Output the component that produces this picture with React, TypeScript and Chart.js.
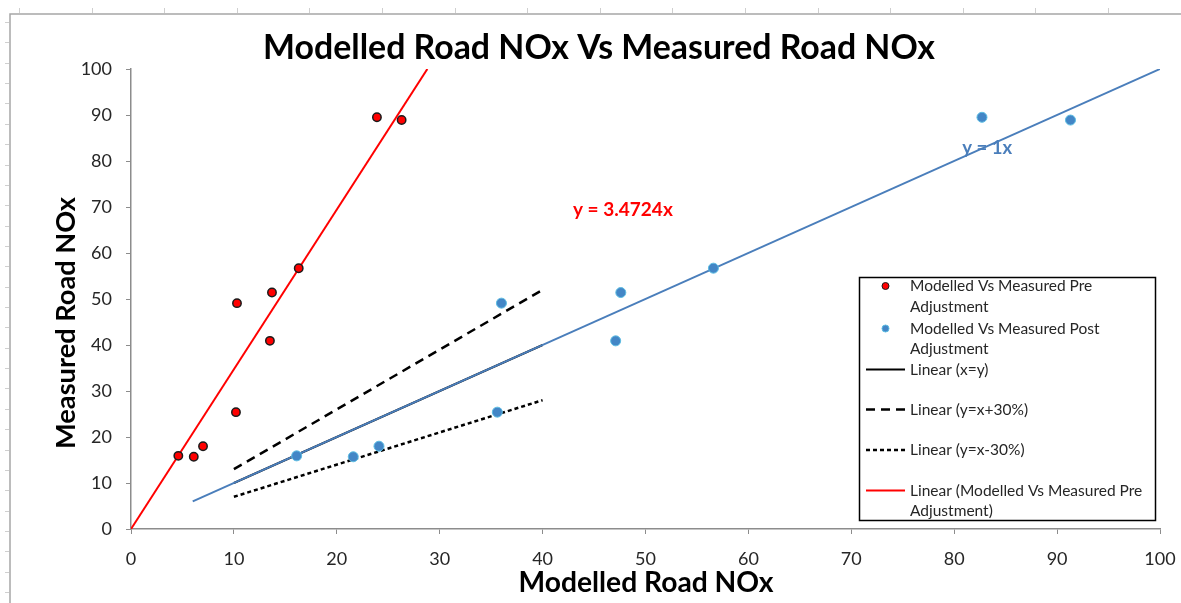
import React, { useEffect, useRef } from "react";
import { Chart, registerables } from "chart.js";

Chart.register(...registerables);

// ---- data ----
const measuredRoadNOx = [15.9, 15.7, 18.0, 25.4, 49.1, 51.4, 40.9, 56.7, 89.5, 88.9];
const modelledPre = [4.6, 6.1, 7.0, 10.2, 10.3, 13.7, 13.5, 16.3, 23.9, 26.3];
const modelledPost = [16.1, 21.6, 24.1, 35.6, 36.0, 47.6, 47.1, 56.6, 82.7, 91.3];

const xyLineX = [10, 40];
const xyLineY = [10, 40];
const plus30X = [10, 40];
const plus30Y = [13, 52];
const minus30X = [10, 40];
const minus30Y = [7, 28];
const preTrendX = [0, 28.8];
const preTrendY = [0, 100];
const postTrendX = [6, 100];
const postTrendY = [6, 100];

const axisTickValues = [0, 10, 20, 30, 40, 50, 60, 70, 80, 90, 100];

const chartTitle = "Modelled Road NOx Vs Measured Road NOx";
const xAxisTitle = "Modelled Road NOx";
const yAxisTitle = "Measured Road NOx";
const preEquation = "y = 3.4724x";
const postEquation = "y = 1x";

const legendItems = [
  { ds: 0, lines: ["Modelled Vs Measured Pre", "Adjustment"] },
  { ds: 1, lines: ["Modelled Vs Measured Post", "Adjustment"] },
  { ds: 2, lines: ["Linear (x=y)"] },
  { ds: 3, lines: ["Linear (y=x+30%)"] },
  { ds: 4, lines: ["Linear (y=x-30%)"] },
  { ds: 5, lines: ["Linear (Modelled Vs Measured Pre", "Adjustment)"] },
];

const FONT = "Lato, 'Open Sans', sans-serif";

const toPoints = (xs: number[], ys: number[]) => xs.map((x, i) => ({ x, y: ys[i] }));

function fitFont(ctx: CanvasRenderingContext2D, text: string, weight: string, target: number) {
  ctx.font = `${weight} 20px ${FONT}`;
  const w = ctx.measureText(text).width;
  return (20 * target) / w;
}

const decorPlugin = {
  id: "decor",
  beforeDraw(chart: any) {
    const ctx = chart.ctx as CanvasRenderingContext2D;
    const W = chart.width;
    const H = chart.height;
    ctx.save();
    ctx.fillStyle = "#ffffff";
    ctx.fillRect(0, 0, W, H);
    // sheet frame
    ctx.strokeStyle = "#a6a6a6";
    ctx.lineWidth = 1.5;
    ctx.beginPath();
    ctx.moveTo(10, H);
    ctx.lineTo(10, 14);
    ctx.lineTo(W, 14);
    ctx.stroke();
    ctx.strokeStyle = "#cfcfcf";
    ctx.lineWidth = 1;
    ctx.beginPath();
    for (let x = 19; x < W; x += 72.6) {
      ctx.moveTo(Math.round(x) + 0.5, 8);
      ctx.lineTo(Math.round(x) + 0.5, 13);
    }
    for (let y = 22; y < H; y += 20.36) {
      ctx.moveTo(5, Math.round(y) + 0.5);
      ctx.lineTo(9, Math.round(y) + 0.5);
    }
    ctx.stroke();
    ctx.restore();
  },
  afterDraw(chart: any) {
    const ctx = chart.ctx as CanvasRenderingContext2D;
    const xs = chart.scales.x;
    const ys = chart.scales.y;
    const area = chart.chartArea;
    ctx.save();
    ctx.textBaseline = "middle";
    ctx.textAlign = "center";
    ctx.fillStyle = "#000000";

    // title
    let size = fitFont(ctx, chartTitle, "bold", 672);
    ctx.font = `bold ${size}px ${FONT}`;
    ctx.fillText(chartTitle, 599, 48);

    // x axis title
    size = fitFont(ctx, xAxisTitle, "bold", 255);
    ctx.font = `bold ${size}px ${FONT}`;
    ctx.fillText(xAxisTitle, 646, 583);

    // y axis title
    size = fitFont(ctx, yAxisTitle, "bold", 252);
    ctx.save();
    ctx.translate(66, 323);
    ctx.rotate(-Math.PI / 2);
    ctx.font = `bold ${size}px ${FONT}`;
    ctx.fillText(yAxisTitle, 0, 0);
    ctx.restore();

    // equations
    size = fitFont(ctx, preEquation, "bold", 100);
    ctx.font = `bold ${size}px ${FONT}`;
    ctx.fillStyle = "#ff0000";
    ctx.fillText(preEquation, xs.getPixelForValue(47.8), ys.getPixelForValue(69.3));
    size = fitFont(ctx, postEquation, "bold", 50);
    ctx.font = `bold ${size}px ${FONT}`;
    ctx.fillStyle = "#4a7ebb";
    ctx.fillText(postEquation, xs.getPixelForValue(83.2), ys.getPixelForValue(82.8));

    // legend
    const bx = 859.5, by = 277.5, bw = 296, bh = 243;
    ctx.fillStyle = "#ffffff";
    ctx.fillRect(bx, by, bw, bh);
    ctx.strokeStyle = "#000000";
    ctx.lineWidth = 1.5;
    ctx.strokeRect(bx, by, bw, bh);
    const rowYs = [286, 328.5, 369.5, 409.5, 450, 490.5];
    ctx.textAlign = "left";
    ctx.font = `15.5px ${FONT}`;
    legendItems.forEach((item, i) => {
      const ds = chart.data.datasets[item.ds];
      const y = rowYs[i];
      if (ds.showLine) {
        ctx.strokeStyle = ds.borderColor;
        ctx.lineWidth = ds.borderWidth;
        ctx.setLineDash(ds.borderDash || []);
        ctx.beginPath();
        ctx.moveTo(866, y);
        ctx.lineTo(905, y);
        ctx.stroke();
        ctx.setLineDash([]);
      } else {
        ctx.beginPath();
        ctx.arc(885.5, y, 3.5, 0, Math.PI * 2);
        ctx.fillStyle = ds.backgroundColor;
        ctx.fill();
        ctx.lineWidth = 1;
        ctx.strokeStyle = ds.borderColor;
        ctx.stroke();
      }
      ctx.fillStyle = "#262626";
      item.lines.forEach((t, j) => ctx.fillText(t, 910, y + j * 20.5));
    });
    ctx.restore();
  },
};

export default function App() {
  const canvasRef = useRef<HTMLCanvasElement | null>(null);

  useEffect(() => {
    document.body.style.margin = "0";
    const canvas = canvasRef.current;
    if (!canvas) return;
    const axisColor = "#8c8c8c";
    const chart = new Chart(canvas, {
      type: "scatter",
      data: {
        datasets: [
          {
            label: "Modelled Vs Measured Pre Adjustment",
            data: toPoints(modelledPre, measuredRoadNOx),
            backgroundColor: "#ff0000",
            borderColor: "#1a1a1a",
            borderWidth: 1.5,
            pointRadius: 4.2,
            showLine: false,
            order: 0,
          },
          {
            label: "Modelled Vs Measured Post Adjustment",
            data: toPoints(modelledPost, measuredRoadNOx),
            backgroundColor: "#4386c6",
            borderColor: "#5cbde3",
            borderWidth: 1,
            pointRadius: 5,
            showLine: false,
            order: 0,
          },
          {
            label: "Linear (x=y)",
            data: toPoints(xyLineX, xyLineY),
            borderColor: "#000000",
            borderWidth: 2,
            pointRadius: 0,
            showLine: true,
            order: 3,
          },
          {
            label: "Linear (y=x+30%)",
            data: toPoints(plus30X, plus30Y),
            borderColor: "#000000",
            borderWidth: 2.5,
            borderDash: [9, 6],
            pointRadius: 0,
            showLine: true,
            order: 2,
          },
          {
            label: "Linear (y=x-30%)",
            data: toPoints(minus30X, minus30Y),
            borderColor: "#000000",
            borderWidth: 2.5,
            borderDash: [4, 3],
            pointRadius: 0,
            showLine: true,
            order: 2,
          },
          {
            label: "Linear (Modelled Vs Measured Pre Adjustment)",
            data: toPoints(preTrendX, preTrendY),
            borderColor: "#ff0000",
            borderWidth: 2,
            pointRadius: 0,
            showLine: true,
            order: 1,
          },
          {
            label: "Linear (Modelled Vs Measured Post Adjustment)",
            data: toPoints(postTrendX, postTrendY),
            borderColor: "#4a7ebb",
            borderWidth: 2,
            pointRadius: 0,
            showLine: true,
            order: 1,
          },
        ],
      },
      options: {
        responsive: false,
        animation: false,
        layout: { padding: { left: 0, right: 21, top: 69, bottom: 0 } },
        plugins: {
          legend: { display: false },
          title: { display: false },
          tooltip: { enabled: false },
        },
        scales: {
          x: {
            type: "linear",
            min: 0,
            max: 100,
            afterBuildTicks: (s: any) => {
              s.ticks = axisTickValues.map((v) => ({ value: v }));
            },
            afterFit: (s: any) => {
              s.height = 74;
              s.paddingLeft = 0;
              s.paddingRight = 0;
            },
            ticks: {
              color: "#262626",
              font: { family: FONT, size: 18 },
              padding: 14,
              maxRotation: 0,
            },
            grid: {
              drawOnChartArea: false,
              drawTicks: true,
              tickLength: 5,
              color: axisColor,
            },
            border: { color: axisColor, width: 1.5 },
          },
          y: {
            type: "linear",
            min: 0,
            max: 100,
            afterBuildTicks: (s: any) => {
              s.ticks = axisTickValues.map((v) => ({ value: v }));
            },
            afterFit: (s: any) => {
              s.width = 131;
              s.paddingTop = 0;
              s.paddingBottom = 0;
            },
            ticks: {
              color: "#262626",
              font: { family: FONT, size: 18 },
              padding: 14,
            },
            grid: {
              drawOnChartArea: false,
              drawTicks: true,
              tickLength: 5,
              color: axisColor,
            },
            border: { color: axisColor, width: 1.5 },
          },
        },
      },
      plugins: [decorPlugin],
    });
    return () => chart.destroy();
  }, []);

  return (
    <div style={{ position: "absolute", left: 0, top: 0, width: 1181, height: 603 }}>
      <canvas ref={canvasRef} width={1181} height={603} style={{ width: 1181, height: 603 }} />
    </div>
  );
}
